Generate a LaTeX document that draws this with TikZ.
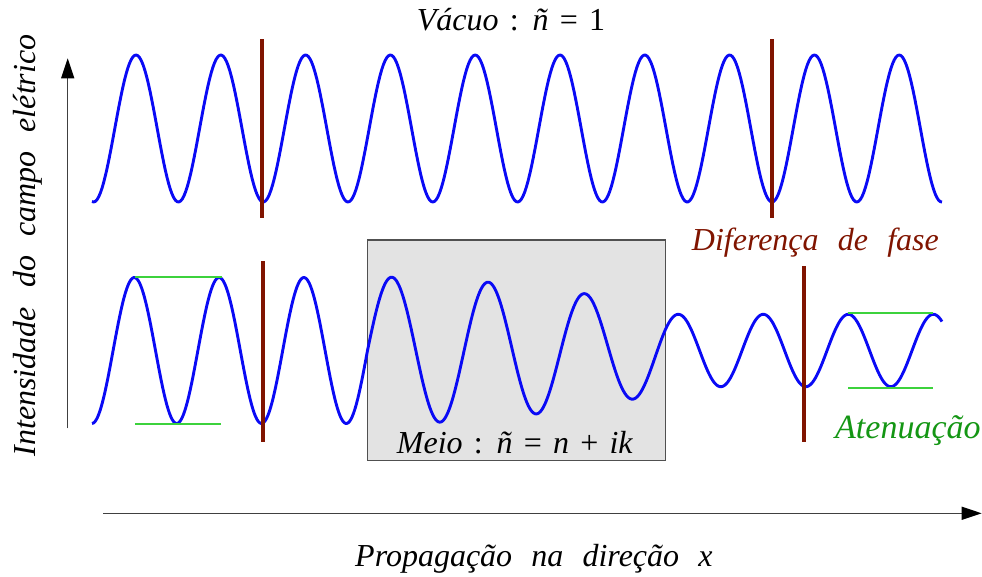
\documentclass[tikz,border=0pt]{standalone}
\usepackage{fontspec}
\setmainfont{Liberation Serif}
\usetikzlibrary{arrows.meta}
\definecolor{wavecol}{RGB}{10,10,245}
\definecolor{phasecol}{RGB}{128,20,0}
\definecolor{attcol}{RGB}{60,210,60}
\definecolor{atttext}{RGB}{20,150,20}
\definecolor{boxfill}{RGB}{227,227,227}
\definecolor{boxline}{RGB}{80,80,80}
\newcommand\mywidesp{\spaceskip=0.6em\relax}
\newcommand\mynarrowsp{\spaceskip=0.35em\relax}
\begin{document}
\begin{tikzpicture}[x=1pt,y=-1pt,
  wavestyle/.style={draw=wavecol, line width=2.9pt, line join=round},
  phaseline/.style={draw=phasecol, line width=4pt},
  attline/.style={draw=attcol, line width=2.2pt},
  axisline/.style={draw=black!75, line width=1.3pt, -{Triangle[length=20pt,width=13pt,color=black]}},
  lbl/.style={inner sep=0pt, font=\fontsize{32}{38}\selectfont\itshape, execute at begin node=\mywidesp},
  lblm/.style={inner sep=0pt, font=\fontsize{32}{38}\selectfont\itshape, execute at begin node=\mynarrowsp},
  mediumbox/.style={draw=boxline, fill=boxfill, line width=1.5pt}
]
\useasboundingbox (0,0) rectangle (982,576);

% medium box
\draw[mediumbox] (367.3,240) rectangle (665.7,460.5);

% axes
\coordinate (y0) at (67.7,428.3);
\coordinate (y1) at (67.7,58.3);
\coordinate (x0) at (103.3,513.3);
\coordinate (x1) at (981.7,513.3);
\draw[axisline] (y0) -- (y1);
\draw[axisline] (x0) -- (x1);

% vacuum wave
\draw[wavestyle] plot[domain=92:942, samples=500] (\x,{128.5-73.5*cos((\x-136)*4.2453)});

% wave through medium
\draw[wavestyle] plot[domain=92:367.5, samples=200] (\x,{350.5-73*sin((\x-367.5)*4.2453)})
  -- plot[domain=367.5:665.7, samples=220] (\x,{350.5-(73.5-(0.01879*(\x-367.5))^2)*sin((\x-367.5)*3.7252)})
  -- plot[domain=665.7:942, samples=200] (\x,{350.5-36.2*cos((\x-678.3)*4.2353)});

% phase lines
\draw[phaseline] (262.3,39) -- (262.3,218);
\draw[phaseline] (771.7,39) -- (771.7,218);
\draw[phaseline] (262.7,261) -- (262.7,441.7);
\draw[phaseline] (804.3,266) -- (804.3,441.7);

% attenuation lines
\draw[attline] (135,277) -- (221.7,277);
\draw[attline] (135,424.3) -- (220.7,424.3);
\draw[attline] (848.3,313.3) -- (933.3,313.3);
\draw[attline] (848.3,387.7) -- (932.7,387.7);

% labels
\node[lblm, anchor=base west] (vacuo) at (416.7,30.7) {Vácuo \textup{:} ñ \textup{=} \textup{1}};
\node[lblm, anchor=base west] (meio) at (396.7,453.3) {Meio \textup{:} ñ \textup{=} n \textup{+} ik};
\node[lbl, text=phasecol, anchor=base west] (fase) at (691.7,250.7) {Diferença de fase};
\node[lbl, text=atttext, anchor=base west, font=\fontsize{34}{40}\selectfont\itshape] (aten) at (835,438.3) {Atenuação};
\node[lbl, anchor=base west] (prop) at (355,566.7) {Propagação na direção x};
\node[lbl, rotate=90, anchor=base west] (ylab) at (35,456.7) {Intensidade do campo elétrico};
\end{tikzpicture}
\end{document}
